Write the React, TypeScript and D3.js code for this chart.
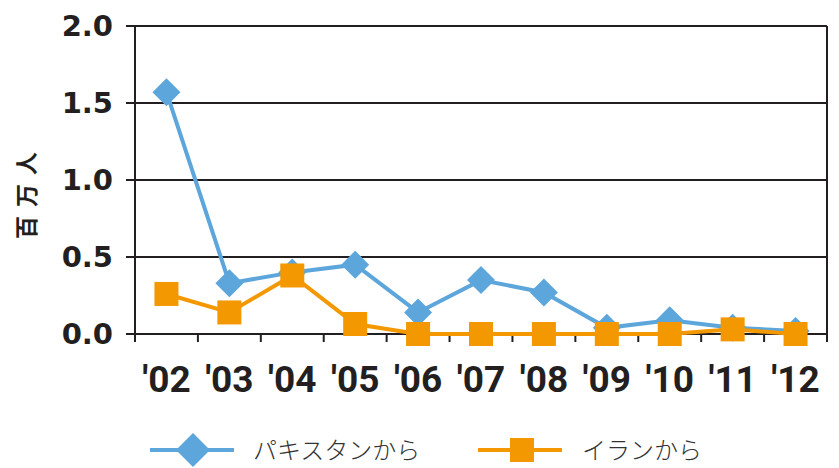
import React from "react";
import * as d3 from "d3";

const years = ["'02", "'03", "'04", "'05", "'06", "'07", "'08", "'09", "'10", "'11", "'12"];
const pakistan = [1.57, 0.33, 0.4, 0.45, 0.14, 0.35, 0.27, 0.04, 0.09, 0.04, 0.02];
const iran = [0.26, 0.14, 0.38, 0.065, 0.0, 0.0, 0.0, 0.0, 0.0, 0.03, 0.0];
const yTicks = [0, 0.5, 1.0, 1.5, 2.0];
const seriesNames = ["パキスタンから", "イランから"];

const BLUE = "#5ca6dc";
const ORANGE = "#f39800";

const W = 839;
const H = 468;
const left = 135;
const right = 827;
const top = 26;
const bottom = 334;

export default function App() {
  const x = d3.scaleBand<string>().domain(years).range([left, right]);
  const y = d3.scaleLinear().domain([0, 2]).range([bottom, top]);
  const cx = (d: string) => (x(d) ?? 0) + x.bandwidth() / 2;

  const line = d3
    .line<number>()
    .x((_, i) => cx(years[i]))
    .y((v) => y(v));

  const diamond = (s: number) => `M0,${-s}L${s},0L0,${s}L${-s},0Z`;

  return (
    <svg width={W} height={H} style={{ position: "absolute", left: 0, top: 0, background: "#fff" }}>
      {/* grid */}
      {yTicks.map((t) => (
        <line key={t} x1={126} x2={right} y1={y(t)} y2={y(t)} stroke="#231f20" strokeWidth={2} />
      ))}
      <line x1={left} x2={left} y1={top} y2={bottom + 8} stroke="#231f20" strokeWidth={2} />
      <line x1={right} x2={right} y1={top} y2={bottom + 8} stroke="#231f20" strokeWidth={2} />
      {years.map((d) => (
        <line key={d} x1={x(d)} x2={x(d)} y1={bottom} y2={bottom + 8} stroke="#231f20" strokeWidth={2} />
      ))}
      {/* y labels */}
      {yTicks.map((t) => (
        <text
          key={t}
          x={113}
          y={y(t) + 10}
          textAnchor="end"
          fontFamily="'DejaVu Sans', sans-serif"
          fontWeight="bold"
          fontSize={29}
          fill="#231f20"
        >
          {t.toFixed(1)}
        </text>
      ))}
      <text
        transform={`translate(35,191) rotate(-90)`}
        textAnchor="middle"
        fontFamily="'Noto Sans CJK JP', sans-serif"
        fontWeight="bold"
        fontSize={23}
        letterSpacing={9}
        fill="#231f20"
      >
        百万人
      </text>
      {/* x labels */}
      {years.map((d) => (
        <text
          key={d}
          x={cx(d)}
          y={392}
          textAnchor="middle"
          fontFamily="'Liberation Sans Narrow', 'Roboto', sans-serif"
          fontWeight="bold"
          fontSize={37}
          fill="#231f20"
        >
          {d}
        </text>
      ))}
      {/* series */}
      <path d={line(pakistan) ?? ""} fill="none" stroke={BLUE} strokeWidth={4} />
      {pakistan.map((v, i) => (
        <path key={i} d={diamond(14)} transform={`translate(${cx(years[i])},${y(v)})`} fill={BLUE} />
      ))}
      <path d={line(iran) ?? ""} fill="none" stroke={ORANGE} strokeWidth={4} />
      {iran.map((v, i) => (
        <rect key={i} x={cx(years[i]) - 12} y={y(v) - 12} width={24} height={24} fill={ORANGE} />
      ))}
      {/* legend */}
      <line x1={150} x2={234} y1={450} y2={450} stroke={BLUE} strokeWidth={4} />
      <path d={diamond(17)} transform="translate(193,450)" fill={BLUE} />
      <text x={253} y={459} fontFamily="'Noto Sans CJK JP', sans-serif" fontWeight={300} fontSize={24} fill="#333">
        {seriesNames[0]}
      </text>
      <line x1={478} x2={562} y1={450} y2={450} stroke={ORANGE} strokeWidth={4} />
      <rect x={510} y={438} width={24} height={24} fill={ORANGE} />
      <text x={582} y={459} fontFamily="'Noto Sans CJK JP', sans-serif" fontWeight={300} fontSize={24} fill="#333">
        {seriesNames[1]}
      </text>
    </svg>
  );
}
